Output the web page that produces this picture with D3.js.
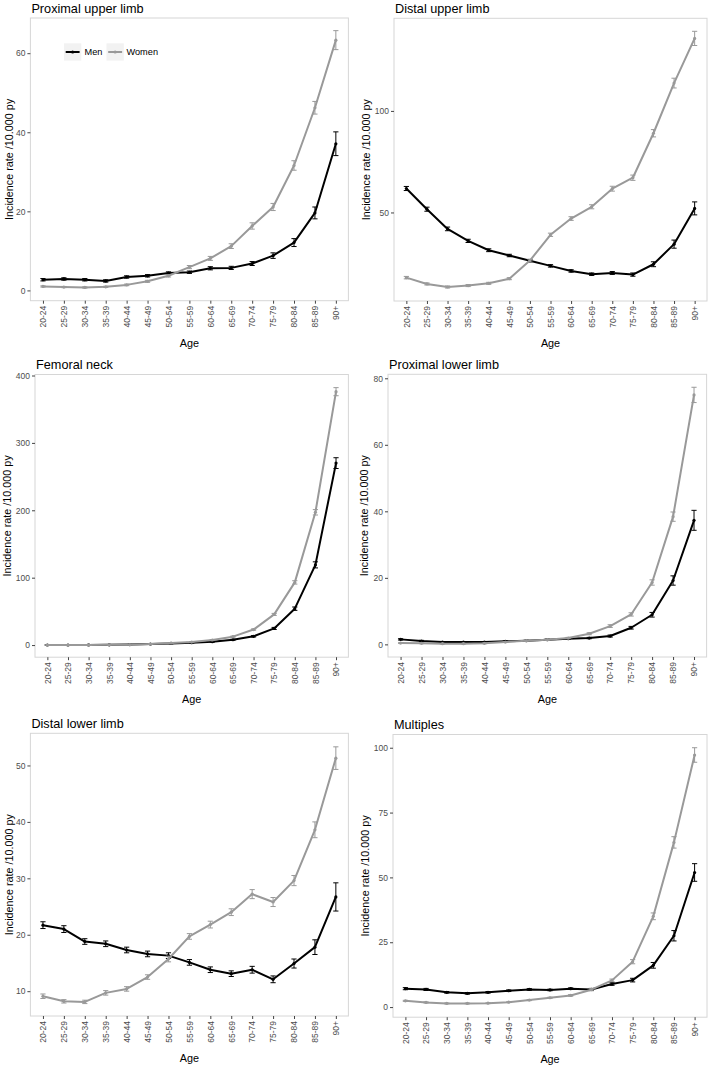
<!DOCTYPE html>
<html><head><meta charset="utf-8">
<script src="https://cdn.jsdelivr.net/npm/d3@7"></script>
<style>body{margin:0;background:#fff}svg{display:block;font-family:"Liberation Sans",Arial,sans-serif}</style>
</head><body>
<svg id="c" width="708" height="1066"></svg>
<script>
const ages = ["20-24","25-29","30-34","35-39","40-44","45-49","50-54","55-59","60-64","65-69","70-74","75-79","80-84","85-89","90+"];
const seriesNames = ["Men","Women"];
const panelTitles = ["Proximal upper limb","Distal upper limb","Femoral neck","Proximal lower limb","Distal lower limb","Multiples"];

// Proximal upper limb
const pulMen      = [2.7,2.9,2.7,2.4,3.4,3.7,4.4,4.6,5.6,5.7,6.8,8.8,12.1,19.6,37.1];
const pulMenErr   = [0.3,0.3,0.3,0.3,0.3,0.3,0.3,0.3,0.4,0.4,0.5,0.7,1.0,1.5,3.0];
const pulWomen    = [1.0,0.85,0.75,0.9,1.4,2.3,3.7,5.9,8.1,11.2,16.3,21.1,31.6,46.2,63.3];
const pulWomenErr = [0.15,0.15,0.15,0.15,0.2,0.25,0.3,0.4,0.5,0.6,0.8,0.9,1.2,1.6,2.4];
// Distal upper limb
const dulMen      = [61.8,51.6,41.9,36.0,31.4,28.8,26.2,23.7,21.2,19.6,20.2,19.4,24.5,34.4,52.0];
const dulMenErr   = [1.0,1.0,0.9,0.8,0.7,0.6,0.6,0.6,0.6,0.6,0.7,0.8,1.2,2.0,3.2];
const dulWomen    = [17.9,14.8,13.3,14.0,15.1,17.4,26.3,39.0,47.0,52.8,61.7,67.1,89.0,113.7,135.7];
const dulWomenErr = [0.6,0.5,0.5,0.5,0.5,0.5,0.7,0.8,0.9,1.0,1.2,1.3,1.8,2.4,3.5];
// Femoral neck
const fnMen       = [0.1,0.1,0.2,0.3,0.7,1.5,2.5,3.5,5.0,7.9,13,24.7,54,119,270];
const fnMenErr    = [0.1,0.1,0.1,0.1,0.2,0.3,0.4,0.5,0.6,0.8,1.0,1.5,2.5,4.5,8];
const fnWomen     = [0.1,0.1,0.2,0.3,0.6,1.5,3.0,4.5,7.5,12.5,23,45.5,93,197,376];
const fnWomenErr  = [0.1,0.1,0.1,0.1,0.2,0.3,0.4,0.5,0.6,0.8,1.0,1.5,2.5,4,6];
// Proximal lower limb
const pllMen      = [1.5,1.0,0.7,0.7,0.7,0.9,1.1,1.4,1.7,1.9,2.5,5.0,8.9,19.2,37.3];
const pllMenErr   = [0.2,0.2,0.15,0.15,0.15,0.15,0.15,0.2,0.2,0.2,0.3,0.4,0.7,1.4,3.0];
const pllWomen    = [0.4,0.3,0.2,0.2,0.3,0.7,1.1,1.4,1.9,3.2,5.5,9.0,18.6,38.4,75.0];
const pllWomenErr = [0.1,0.1,0.1,0.1,0.1,0.1,0.15,0.2,0.2,0.3,0.4,0.5,0.8,1.4,2.3];
// Distal lower limb
const dllMen      = [21.7,21.0,18.8,18.4,17.3,16.6,16.3,15.1,13.8,13.1,13.8,12.1,14.9,17.8,26.7];
const dllMenErr   = [0.6,0.6,0.5,0.5,0.5,0.5,0.5,0.5,0.5,0.5,0.6,0.6,0.8,1.3,2.5];
const dllWomen    = [9.1,8.2,8.1,9.7,10.4,12.5,15.7,19.7,21.8,24.0,27.2,25.8,29.6,38.6,51.3];
const dllWomenErr = [0.4,0.3,0.3,0.4,0.4,0.4,0.5,0.5,0.6,0.6,0.8,0.8,0.9,1.4,2.0];
// Multiples
const mulMen      = [7.1,6.8,5.7,5.3,5.7,6.3,6.8,6.6,7.1,6.8,8.9,10.4,16.1,27.5,51.9];
const mulMenErr   = [0.4,0.4,0.3,0.3,0.3,0.3,0.3,0.3,0.3,0.4,0.5,0.7,1.1,2.0,3.4];
const mulWomen    = [2.4,1.8,1.4,1.4,1.5,1.9,2.7,3.6,4.5,6.7,10.3,17.5,35.0,63.5,97.2];
const mulWomenErr = [0.2,0.2,0.15,0.15,0.15,0.15,0.2,0.2,0.3,0.4,0.5,0.8,1.3,2.2,2.8];

const yTicks = [[0,20,40,60],[50,100],[0,100,200,300,400],[0,20,40,60,80],[10,20,30,40,50],[0,25,50,75,100]];
const yDomains = [[-2.6,68.9],[6.4,145.6],[-18,401.5],[-3.8,81.2],[5.6,55.7],[-3.9,105.1]];

const panelData = [
  [pulMen,pulMenErr,pulWomen,pulWomenErr],
  [dulMen,dulMenErr,dulWomen,dulWomenErr],
  [fnMen,fnMenErr,fnWomen,fnWomenErr],
  [pllMen,pllMenErr,pllWomen,pllWomenErr],
  [dllMen,dllMenErr,dllWomen,dllWomenErr],
  [mulMen,mulMenErr,mulWomen,mulWomenErr]
];

// layout (pixel boxes of each plotting region)
const layout = [
  {l:30.4, r:348.4, t:18,    ylx:9.5},
  {l:394,  r:707,   t:18.3,  ylx:366},
  {l:35,   r:348.4, t:374.5, ylx:7},
  {l:388,  r:706.6, t:374.3, ylx:364.5},
  {l:30.4, r:348.4, t:733.3, ylx:9.5},
  {l:393,  r:707,   t:734.5, ylx:365.5}
];
const plotH = 282.7;
const colors = ["#000000","#999999"];

const svg = d3.select("#c");

panelTitles.forEach((title,i)=>{
  const L = layout[i];
  const b = L.t + plotH;
  const x = d3.scalePoint().domain(ages).range([L.l, L.r]).padding(0.6);
  const y = d3.scaleLinear().domain(yDomains[i]).range([b, L.t]);
  const g = svg.append("g");

  // title
  g.append("text").attr("x", L.l+1).attr("y", L.t-5.5).attr("font-size", 12.7).attr("fill","#000").text(title);

  // panel border
  g.append("rect").attr("x",L.l).attr("y",L.t).attr("width",L.r-L.l).attr("height",plotH)
    .attr("fill","none").attr("stroke","#d6d6d6").attr("stroke-width",1);

  // y axis
  const ya = g.append("g").attr("transform",`translate(${L.l},0)`)
    .call(d3.axisLeft(y).tickValues(yTicks[i]).tickSize(3).tickPadding(2).tickFormat(d3.format("d")));
  ya.select(".domain").remove();
  ya.selectAll("line").attr("stroke","#444");
  ya.selectAll("text").attr("font-size",8.5).attr("fill","#4d4d4d").attr("font-family","Liberation Sans, Arial, sans-serif");

  // x axis
  const xa = g.append("g").attr("transform",`translate(0,${b})`)
    .call(d3.axisBottom(x).tickSize(3).tickPadding(2));
  xa.select(".domain").remove();
  xa.selectAll("line").attr("stroke","#444");
  xa.selectAll("text").attr("font-size",8.5).attr("fill","#4d4d4d").attr("font-family","Liberation Sans, Arial, sans-serif")
    .attr("transform","rotate(-90)").attr("text-anchor","end").attr("dy","0.33em").attr("dx","0").attr("x",-5).attr("y",0);

  // axis titles
  g.append("text").attr("x",(L.l+L.r)/2).attr("y",b+46).attr("text-anchor","middle").attr("font-size",10.8).text("Age");
  g.append("text").attr("transform",`translate(${L.ylx},${L.t+plotH/2}) rotate(-90)`).attr("text-anchor","middle")
    .attr("dy","0.35em").attr("font-size",10.8).text("Incidence rate /10.000 py");

  // series
  const [mv, me, wv, we] = panelData[i];
  const series = [[mv,me],[wv,we]];
  series.forEach(([vals,errs],s)=>{
    const col = colors[s];
    const line = d3.line().x((d,k)=>x(ages[k])).y(d=>y(d));
    g.append("path").datum(vals).attr("d",line).attr("fill","none").attr("stroke",col).attr("stroke-width",2).attr("stroke-linejoin","round");
    const eb = g.append("g").attr("stroke",col).attr("stroke-width",1);
    vals.forEach((v,k)=>{
      const cx = x(ages[k]);
      const y1 = y(v-errs[k]), y2 = y(v+errs[k]);
      eb.append("line").attr("x1",cx).attr("x2",cx).attr("y1",y1).attr("y2",y2);
      eb.append("line").attr("x1",cx-2.6).attr("x2",cx+2.6).attr("y1",y1).attr("y2",y1);
      eb.append("line").attr("x1",cx-2.6).attr("x2",cx+2.6).attr("y1",y2).attr("y2",y2);
    });
    g.append("g").selectAll("circle").data(vals).join("circle")
      .attr("cx",(d,k)=>x(ages[k])).attr("cy",d=>y(d)).attr("r",1.6).attr("fill",col);
  });

  // legend in first panel
  if(i===0){
    const lg = g.append("g");
    const keys = [{x:64, tx:84.5},{x:106.5, tx:126.5}];
    seriesNames.forEach((nm,s)=>{
      const k = keys[s];
      lg.append("rect").attr("x",k.x).attr("y",43.3).attr("width",17.3).attr("height",17.3).attr("fill","#f2f2f2");
      lg.append("line").attr("x1",k.x+1.7).attr("x2",k.x+15.6).attr("y1",52).attr("y2",52).attr("stroke",colors[s]).attr("stroke-width",2);
      lg.append("circle").attr("cx",k.x+8.65).attr("cy",52).attr("r",1.6).attr("fill",colors[s]);
      lg.append("text").attr("x",k.tx).attr("y",52).attr("dy","0.35em").attr("font-size",9.2).text(nm);
    });
  }
});
</script>
</body></html>
